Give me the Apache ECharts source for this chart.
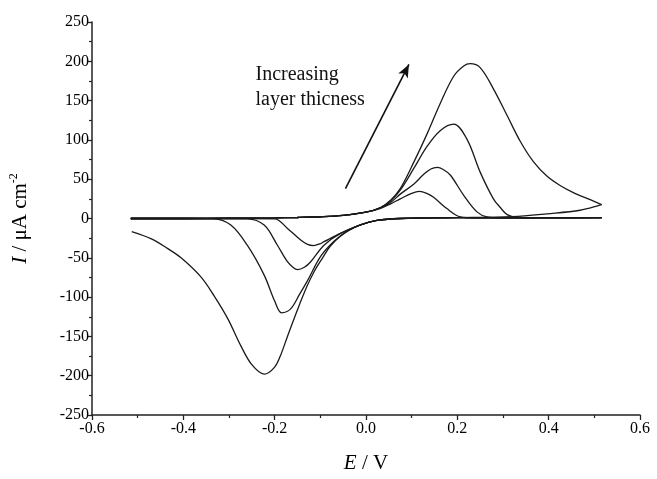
<!DOCTYPE html>
<html><head><meta charset="utf-8">
<script src="https://cdn.jsdelivr.net/npm/echarts@6/dist/echarts.min.js"></script>
<style>html,body{margin:0;padding:0;background:#fff}#c{width:657px;height:479px}</style>
</head><body><div id="c"></div>
<script>
// Anodic (forward) scans, [E / V, I / uA cm-2]
const fwd1 = [[-0.515,0],[-0.4,0],[-0.3,0.3],[-0.2,0.8],[-0.15,1.3],[-0.1,2.2],[-0.05,4],[0,8],[0.032,14],[0.055,24],[0.075,38],[0.105,72],[0.134,108],[0.163,147],[0.192,181],[0.214,194],[0.228,197],[0.25,192],[0.279,165],[0.309,131],[0.338,98],[0.367,72],[0.396,54],[0.425,42],[0.454,33],[0.491,24],[0.516,17.7]];
const fwd2 = [[-0.515,0],[-0.4,0],[-0.3,0.3],[-0.2,0.8],[-0.15,1.3],[-0.1,2.2],[-0.05,4],[0,8],[0.032,14],[0.055,23],[0.075,36],[0.105,64],[0.134,92],[0.163,112],[0.192,120],[0.221,101],[0.25,59],[0.279,25],[0.294,14],[0.309,5],[0.33,1.5],[0.4,0.8],[0.516,1]];
const fwd3 = [[-0.515,0],[-0.4,0],[-0.3,0.3],[-0.2,0.8],[-0.15,1.3],[-0.1,2.2],[-0.05,4],[0,8],[0.032,13.5],[0.055,21],[0.075,31],[0.105,44],[0.126,56],[0.142,63],[0.156,65],[0.17,62],[0.185,55],[0.214,29.5],[0.243,8.4],[0.265,2],[0.3,0.6],[0.4,0.8],[0.516,1]];
const fwd4 = [[-0.515,0],[-0.4,0],[-0.3,0.3],[-0.2,0.8],[-0.15,1.3],[-0.1,2.2],[-0.05,4],[0,8],[0.032,13],[0.055,19],[0.075,25],[0.1,32],[0.117,34.5],[0.133,32],[0.148,27],[0.177,12.6],[0.207,2],[0.24,0.5],[0.4,0.8],[0.516,1]];
// Cathodic (reverse) scans, listed by increasing E
const rev1 = [[-0.513,-16.8],[-0.47,-26],[-0.435,-38],[-0.405,-50],[-0.362,-74],[-0.333,-98],[-0.303,-127],[-0.274,-162],[-0.25,-186],[-0.223,-198],[-0.2,-189],[-0.187,-174],[-0.172,-150],[-0.15,-116],[-0.129,-86],[-0.114,-68],[-0.095,-50],[-0.078,-35],[-0.055,-22],[-0.034,-14],[-0.012,-8],[0.024,-2.5],[0.075,0],[0.2,1],[0.32,2.5],[0.396,6],[0.469,10.5],[0.516,17.7]];
const rev2 = [[-0.515,0],[-0.4,0],[-0.333,-0.5],[-0.296,-8.4],[-0.26,-34],[-0.223,-72],[-0.2,-105],[-0.185,-120],[-0.165,-115],[-0.145,-96],[-0.129,-80],[-0.099,-48],[-0.07,-29],[-0.041,-16],[-0.012,-8],[0.024,-2.5],[0.075,0],[0.2,1],[0.35,1.2],[0.516,1]];
const rev3 = [[-0.515,0],[-0.4,0],[-0.26,-0.5],[-0.223,-8.4],[-0.194,-34],[-0.172,-55],[-0.16,-62],[-0.15,-65],[-0.135,-62],[-0.121,-55],[-0.092,-34],[-0.056,-19],[-0.012,-8],[0.024,-2.5],[0.075,0],[0.2,1],[0.516,1]];
const rev4 = [[-0.515,0],[-0.4,0],[-0.2,-0.5],[-0.172,-12.6],[-0.143,-27.4],[-0.128,-33],[-0.115,-34.5],[-0.1,-32],[-0.092,-29.5],[-0.056,-19],[-0.012,-8],[0.024,-2.5],[0.075,0],[0.2,1],[0.516,1]];

const arrowFrom = [-0.045, 38];
const arrowTo = [0.094, 196];
const noteAnchor = [-0.242, 199];
const noteText = 'Increasing\nlayer thicness';

const serif = '"Liberation Serif", "DejaVu Serif", serif';
const lineColor = '#1a1a1a';

function mk(name, data, extra) {
  return Object.assign({
    name: name, type: 'line', data: data, showSymbol: false, symbol: 'none',
    smooth: 0.35,
    lineStyle: { color: lineColor, width: 1.3 }, silent: true
  }, extra || {});
}

const chart = echarts.init(document.getElementById('c'), null, { renderer: 'canvas' });
const option = {
  animation: false,
  backgroundColor: '#fff',
  grid: { left: 91, right: 17, top: 22, bottom: 61, containLabel: false },
  xAxis: {
    type: 'value', min: -0.6, max: 0.6, interval: 0.2,
    name: '{it|E} / V', nameLocation: 'middle', nameGap: 38,
    nameTextStyle: { fontFamily: serif, fontSize: 21, color: '#000',
      rich: { it: { fontFamily: serif, fontStyle: 'italic', fontSize: 21, color: '#000' } } },
    axisLine: { show: true, onZero: false, lineStyle: { color: '#222', width: 1.5 } },
    axisTick: { show: true, inside: false, length: 5, lineStyle: { color: '#222', width: 1.3 } },
    minorTick: { show: true, splitNumber: 2, length: 3, lineStyle: { color: '#222', width: 1.2 } },
    splitLine: { show: false },
    axisLabel: { fontFamily: serif, fontSize: 16, color: '#000', margin: 6,
      formatter: v => v.toFixed(1), showMinLabel: true, showMaxLabel: true }
  },
  yAxis: {
    type: 'value', min: -250, max: 250, interval: 50,
    name: '{it|I} / μA cm{sup|-2}', nameLocation: 'middle', nameGap: 60, nameRotate: 90,
    nameTextStyle: { fontFamily: serif, fontSize: 21, color: '#000',
      rich: { it: { fontFamily: serif, fontStyle: 'italic', fontSize: 21, color: '#000' },
              sup: { fontFamily: serif, fontSize: 12, color: '#000', padding: [0, 0, 12, 0] } } },
    axisLine: { show: true, onZero: false, lineStyle: { color: '#222', width: 1.5 } },
    axisTick: { show: true, inside: false, length: 5, lineStyle: { color: '#222', width: 1.3 } },
    minorTick: { show: true, splitNumber: 2, length: 3, lineStyle: { color: '#222', width: 1.2 } },
    splitLine: { show: false },
    axisLabel: { fontFamily: serif, fontSize: 16, color: '#000', margin: 3,
      showMinLabel: true, showMaxLabel: true }
  },
  series: [
    mk('fwd1', fwd1, {
      markLine: {
        silent: true, animation: false,
        symbol: ['none', 'arrow'], symbolSize: [8, 13],
        label: { show: false },
        lineStyle: { color: '#111', width: 1.6, type: 'solid' },
        data: [[{ coord: arrowFrom }, { coord: arrowTo }]]
      }
    }),
    mk('rev1', rev1), mk('fwd2', fwd2), mk('rev2', rev2),
    mk('fwd3', fwd3), mk('rev3', rev3), mk('fwd4', fwd4), mk('rev4', rev4)
  ]
};
chart.setOption(option);
const p = chart.convertToPixel({ xAxisIndex: 0, yAxisIndex: 0 }, noteAnchor);
chart.setOption({
  graphic: [{
    type: 'text', left: p[0], top: p[1], silent: true,
    style: { text: noteText, font: '20px ' + serif, fill: '#111', lineHeight: 25 }
  }]
});
</script>
</body></html>
